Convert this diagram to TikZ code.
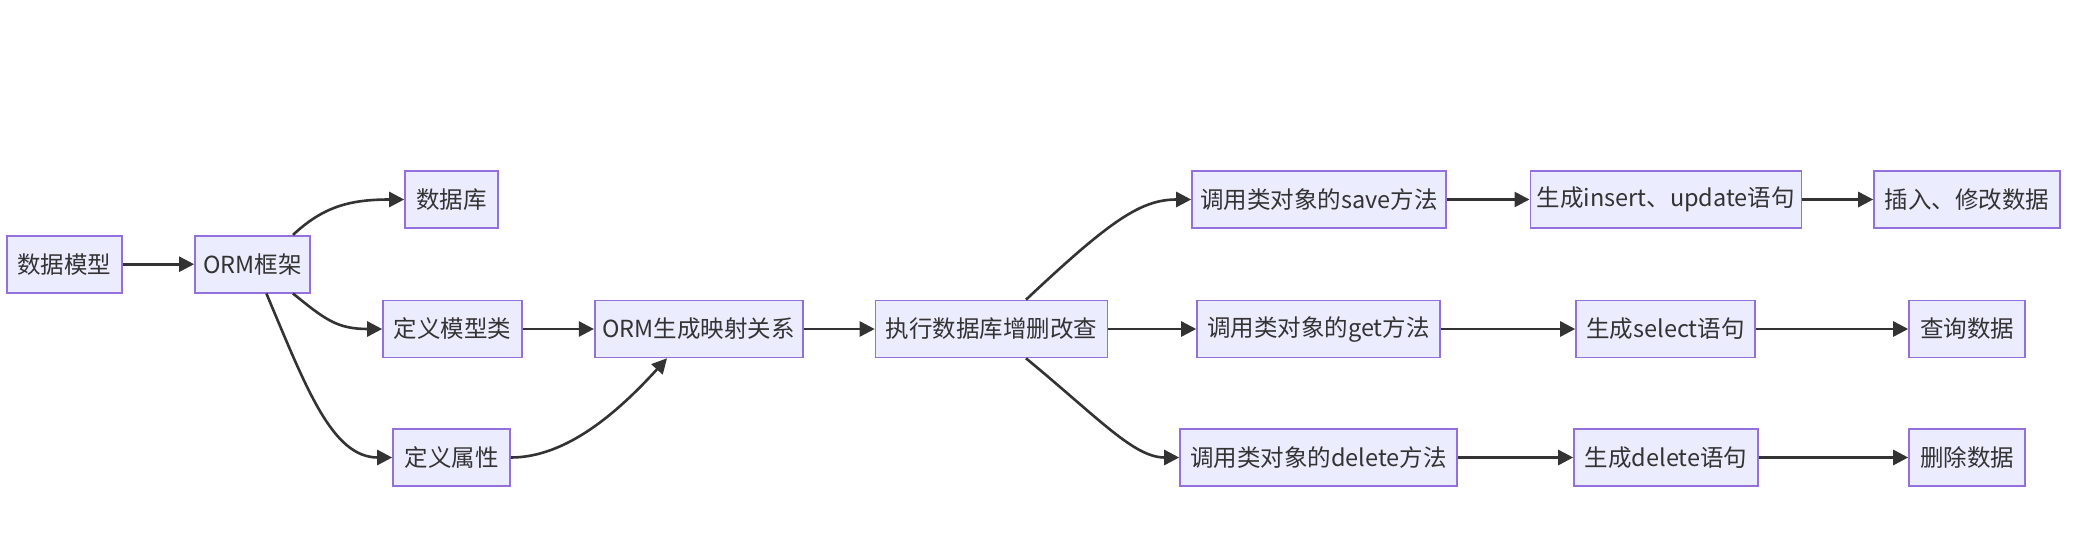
\documentclass[tikz,border=0pt]{standalone}
\usepackage{fontspec}
\setmainfont{Noto Sans CJK SC}
\usetikzlibrary{arrows.meta}
\definecolor{boxfill}{HTML}{ECECFF}
\definecolor{boxdraw}{HTML}{9370DB}
\definecolor{edge}{HTML}{333333}
\definecolor{txt}{HTML}{333333}
\tikzset{
  box/.style={draw=boxdraw, fill=boxfill, line width=1.6pt, minimum height=57pt, inner sep=0pt,
    text=txt, font=\fontsize{23.5}{27}\selectfont},
  flow/.style={draw=edge, line width=2.6pt, -{Triangle[length=15pt,width=15pt]}},
}
\begin{document}
\begin{tikzpicture}[x=1pt,y=-1pt]
\path[fill=white] (0,0) rectangle (2077,556);
\useasboundingbox (0,0) rectangle (2077,556);
% nodes
\node[box, minimum width=115pt] (m) at (64.3,264.2) {数据模型};
\node[box, minimum width=115pt] (orm) at (252.4,264.2) {ORM框架};
\node[box, minimum width=93pt] (db) at (451.5,199.5) {数据库};
\node[box, minimum width=139pt] (cls) at (452.5,329) {定义模型类};
\node[box, minimum width=117pt] (attr) at (451.5,457.5) {定义属性};
\node[box, minimum width=208pt] (map) at (698.7,329) {ORM生成映射关系};
\node[box, minimum width=232pt] (exec) at (991.5,329) {执行数据库增删改查};
\node[box, minimum width=254pt] (save) at (1319,199.5) {调用类对象的save方法};
\node[box, minimum width=271pt] (ins) at (1665.8,199.5) {生成insert、update语句};
\node[box, minimum width=186pt] (insd) at (1967,199.5) {插入、修改数据};
\node[box, minimum width=243pt] (get) at (1318.5,329) {调用类对象的get方法};
\node[box, minimum width=179pt] (sel) at (1665.5,329) {生成select语句};
\node[box, minimum width=116pt] (q) at (1967,329) {查询数据};
\node[box, minimum width=277pt] (del) at (1318.5,457.5) {调用类对象的delete方法};
\node[box, minimum width=184pt] (dels) at (1666,457.5) {生成delete语句};
\node[box, minimum width=116pt] (delq) at (1967,457.5) {删除数据};
% edges
\draw[flow] (m) -- (orm);
\draw[flow] ([xshift=40.6pt]orm.north) .. controls +(30,-28) and +(-55,0) .. (db.west);
\draw[flow] ([xshift=40.6pt]orm.south) .. controls +(32,26) and +(-45,0) .. (cls.west);
\draw[flow] ([xshift=14pt]orm.south) .. controls +(40,95) and +(-60,0) .. (attr.west);
\draw[flow] (cls) -- (map);
\draw[flow] (attr.east) .. controls +(55,0) and +(-50,55) .. ([xshift=-31.7pt]map.south);
\draw[flow] (map) -- (exec);
\draw[flow] ([xshift=34.5pt]exec.north) .. controls +(85,-80) and +(-50,0) .. (save.west);
\draw[flow] (exec) -- (get);
\draw[flow] ([xshift=34.5pt]exec.south) .. controls +(75,62) and +(-45,0) .. (del.west);
\draw[flow] (save) -- (ins);
\draw[flow] (ins) -- (insd);
\draw[flow] (get) -- (sel);
\draw[flow] (sel) -- (q);
\draw[flow] (del) -- (dels);
\draw[flow] (dels) -- (delq);
\end{tikzpicture}
\end{document}
